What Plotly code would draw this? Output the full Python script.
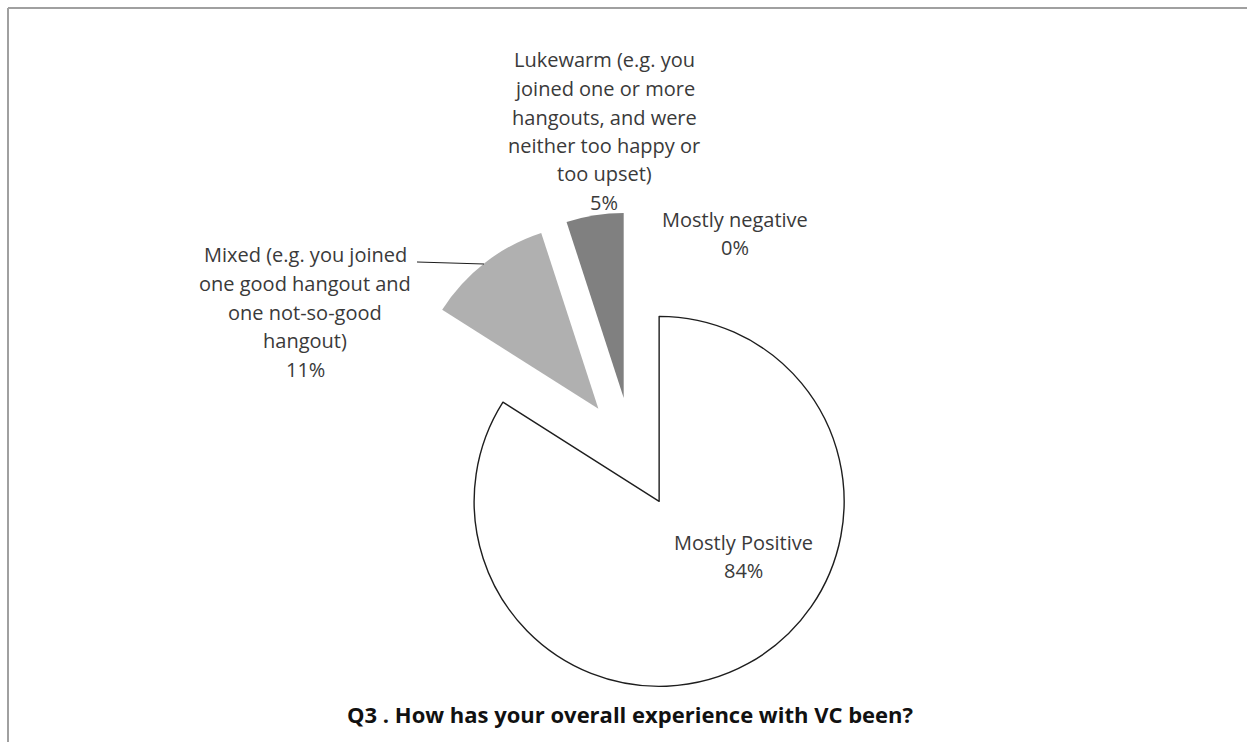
import plotly.graph_objects as go

# Canvas size in pixels
W, H = 1247, 742

# ---- data -------------------------------------------------------------
categories = [
    "Mostly Positive",
    "Mixed (e.g. you joined one good hangout and one not-so-good hangout)",
    "Lukewarm (e.g. you joined one or more hangouts, and were neither too happy or too upset)",
    "Mostly negative",
]
percentages = [84, 11, 5, 0]

# category names broken into the lines used for the slice labels
label_lines = [
    ["Mostly Positive"],
    ["Mixed (e.g. you joined", "one good hangout and", "one not-so-good", "hangout)"],
    ["Lukewarm (e.g. you", "joined one or more", "hangouts, and were",
     "neither too happy or", "too upset)"],
    ["Mostly negative"],
]
title_text = "Q3 . How has your overall experience with VC been?"

# ---- styling ----------------------------------------------------------
slice_colors = ["#ffffff", "#b0b0b0", "#808080", "#5a5a5a"]
slice_line_widths = [1.4, 0, 0, 0]
slice_pull = [0.3, 0.3, 0.3, 0.3]

# label block placement: (center x, first-line y) in pixels, line step
label_anchor_px = [(743, 542), (305, 255), (604, 60), (735, 219)]
LINE_STEP = 28.5
LABEL_FONT = dict(family="Open Sans", size=20, color="#3a3a3a")


def px_x(x):
    return x / W


def px_y(y):
    return 1 - y / H


# pie box: centre and side length in pixels
cx, cy, side = 632.4, 452.7, 481.0

fig = go.Figure()
fig.add_trace(go.Pie(
    labels=categories,
    values=percentages,
    sort=False,
    direction="clockwise",
    rotation=0,
    pull=slice_pull,
    textinfo="none",
    hoverinfo="label+percent",
    showlegend=False,
    marker=dict(colors=slice_colors,
                line=dict(color="#1e1e1e", width=slice_line_widths)),
    domain=dict(x=[px_x(cx - side / 2), px_x(cx + side / 2)],
                y=[px_y(cy + side / 2), px_y(cy - side / 2)]),
))

# slice labels: wrapped name lines followed by the percentage
annotations = []
for lines, value, (ax, ay) in zip(label_lines, percentages, label_anchor_px):
    for k, line in enumerate(lines + [f"{value}%"]):
        annotations.append(dict(
            x=px_x(ax), y=px_y(ay + k * LINE_STEP),
            xref="paper", yref="paper",
            text=line, showarrow=False,
            xanchor="center", yanchor="middle",
            font=LABEL_FONT,
        ))

# chart title at the bottom
annotations.append(dict(
    x=px_x(630), y=px_y(714), xref="paper", yref="paper",
    text=f"<b>{title_text}</b>", showarrow=False,
    xanchor="center", yanchor="middle",
    font=dict(family="Open Sans", size=22, color="#111111"),
))

shapes = [
    # leader line from the "Mixed" label to its slice
    dict(type="line", xref="paper", yref="paper",
         x0=px_x(417), y0=px_y(262), x1=px_x(484), y1=px_y(264),
         line=dict(color="#1e1e1e", width=1.2)),
    # chart-area frame (top and left edges)
    dict(type="line", xref="paper", yref="paper",
         x0=px_x(8), y0=px_y(8), x1=1, y1=px_y(8),
         line=dict(color="#a0a0a0", width=2)),
    dict(type="line", xref="paper", yref="paper",
         x0=px_x(8), y0=px_y(8), x1=px_x(8), y1=0,
         line=dict(color="#a0a0a0", width=2)),
]

fig.update_layout(
    width=W, height=H,
    margin=dict(l=0, r=0, t=0, b=0),
    paper_bgcolor="white",
    plot_bgcolor="white",
    annotations=annotations,
    shapes=shapes,
)

fig.write_html("out.html")
